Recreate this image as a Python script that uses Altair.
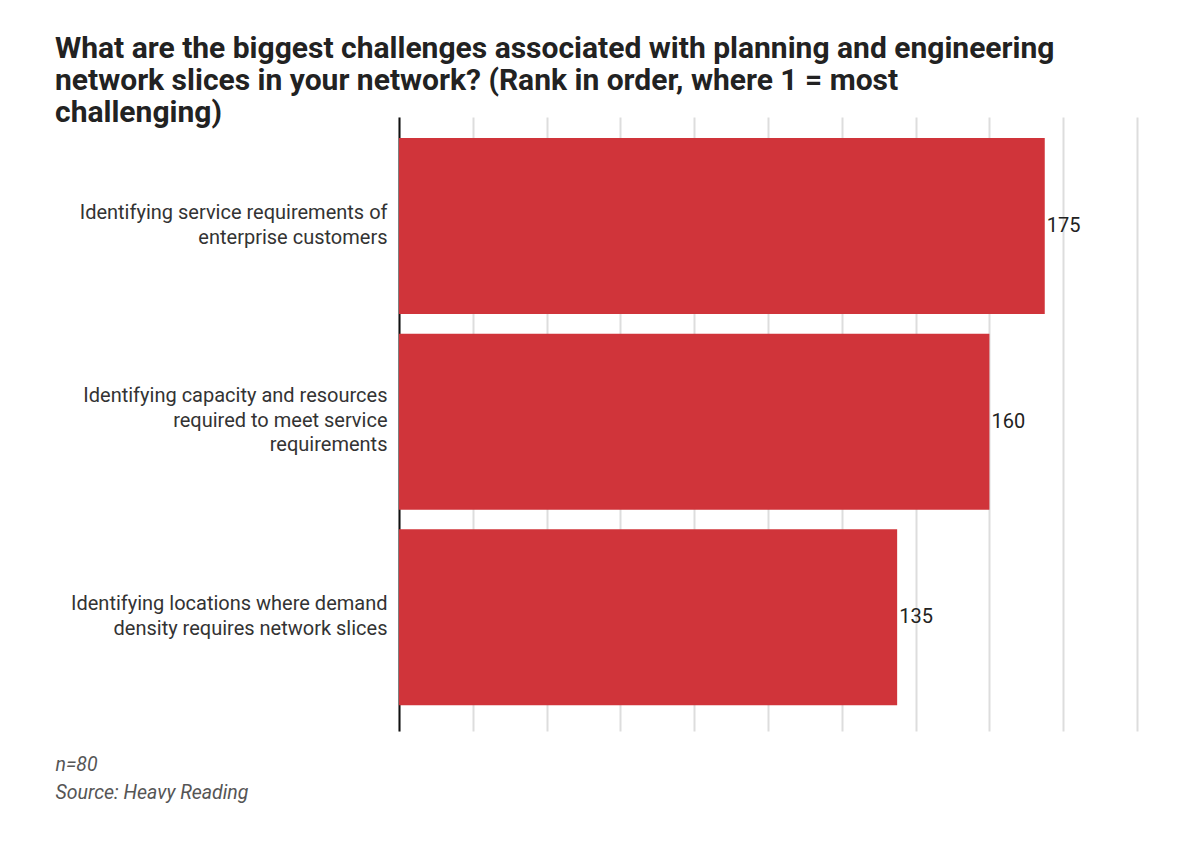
import altair as alt
import pandas as pd

categories = [
    "Identifying service requirements of|enterprise customers",
    "Identifying capacity and resources|required to meet service|requirements",
    "Identifying locations where demand|density requires network slices",
]
values = [175, 160, 135]
grid_values = list(range(0, 201, 20))

df = pd.DataFrame({"cat": categories, "value": values})

title_lines = [
    "What are the biggest challenges associated with planning and engineering",
    "network slices in your network? (Rank in order, where 1 = most",
    "challenging)",
]
footer_lines = ["n=80", "Source: Heavy Reading"]

base = alt.Chart(df).encode(
    y=alt.Y(
        "cat:N",
        sort=categories,
        scale=alt.Scale(paddingInner=0.1, paddingOuter=0.12, align=0.45),
        axis=alt.Axis(
            title=None,
            labelExpr="split(datum.label, '|')",
            labelFont="Roboto",
            labelFontSize=20,
            labelColor="#333333",
            labelLineHeight=24.5,
            labelPadding=12,
            labelLimit=400,
            labelOffset={
                "condition": {"test": "indexof(datum.value, 'capacity') >= 0", "value": -25.5},
                "value": -13,
            },
            ticks=False,
            domain=True,
            domainColor="#111111",
            domainWidth=2,
            grid=False,
        ),
    ),
    x=alt.X(
        "value:Q",
        scale=alt.Scale(domain=[0, 200], nice=False),
        axis=alt.Axis(
            values=grid_values,
            labels=False,
            ticks=False,
            domain=False,
            grid=True,
            gridColor="#dddddd",
            gridWidth=2,
            title=footer_lines,
            titleFont="Roboto",
            titleFontSize=19.5,
            titleFontStyle="italic",
            titleFontWeight="normal",
            titleColor="#555555",
            titleAlign="left",
            titleAnchor="start",
            titleBaseline="alphabetic",
            titleLineHeight=28,
            titleX=-344,
            titleY=39,
        ),
    ),
)

bars = base.mark_bar(color="#D0343A")
labels = base.mark_text(align="left", baseline="middle", dx=2, font="Roboto", fontSize=20, color="#222222").encode(
    text=alt.Text("value:Q")
)

chart = (
    alt.layer(bars, labels)
    .properties(
        width=738,
        height=614,
        autosize=alt.AutoSizeParams(type="none"),
        padding={"left": 391, "top": 109, "right": 55, "bottom": 110},
        title=alt.TitleParams(
            text=title_lines,
            font="Roboto",
            fontSize=30,
            fontWeight="bold",
            color="#222222",
            anchor="start",
            frame="group",
            dx=-344,
            dy=11,
            lineHeight=32,
            offset=0,
        ),
    )
    .configure_view(stroke=None)
)

chart.save("out.html", embed_options={"renderer": "svg", "actions": False})
